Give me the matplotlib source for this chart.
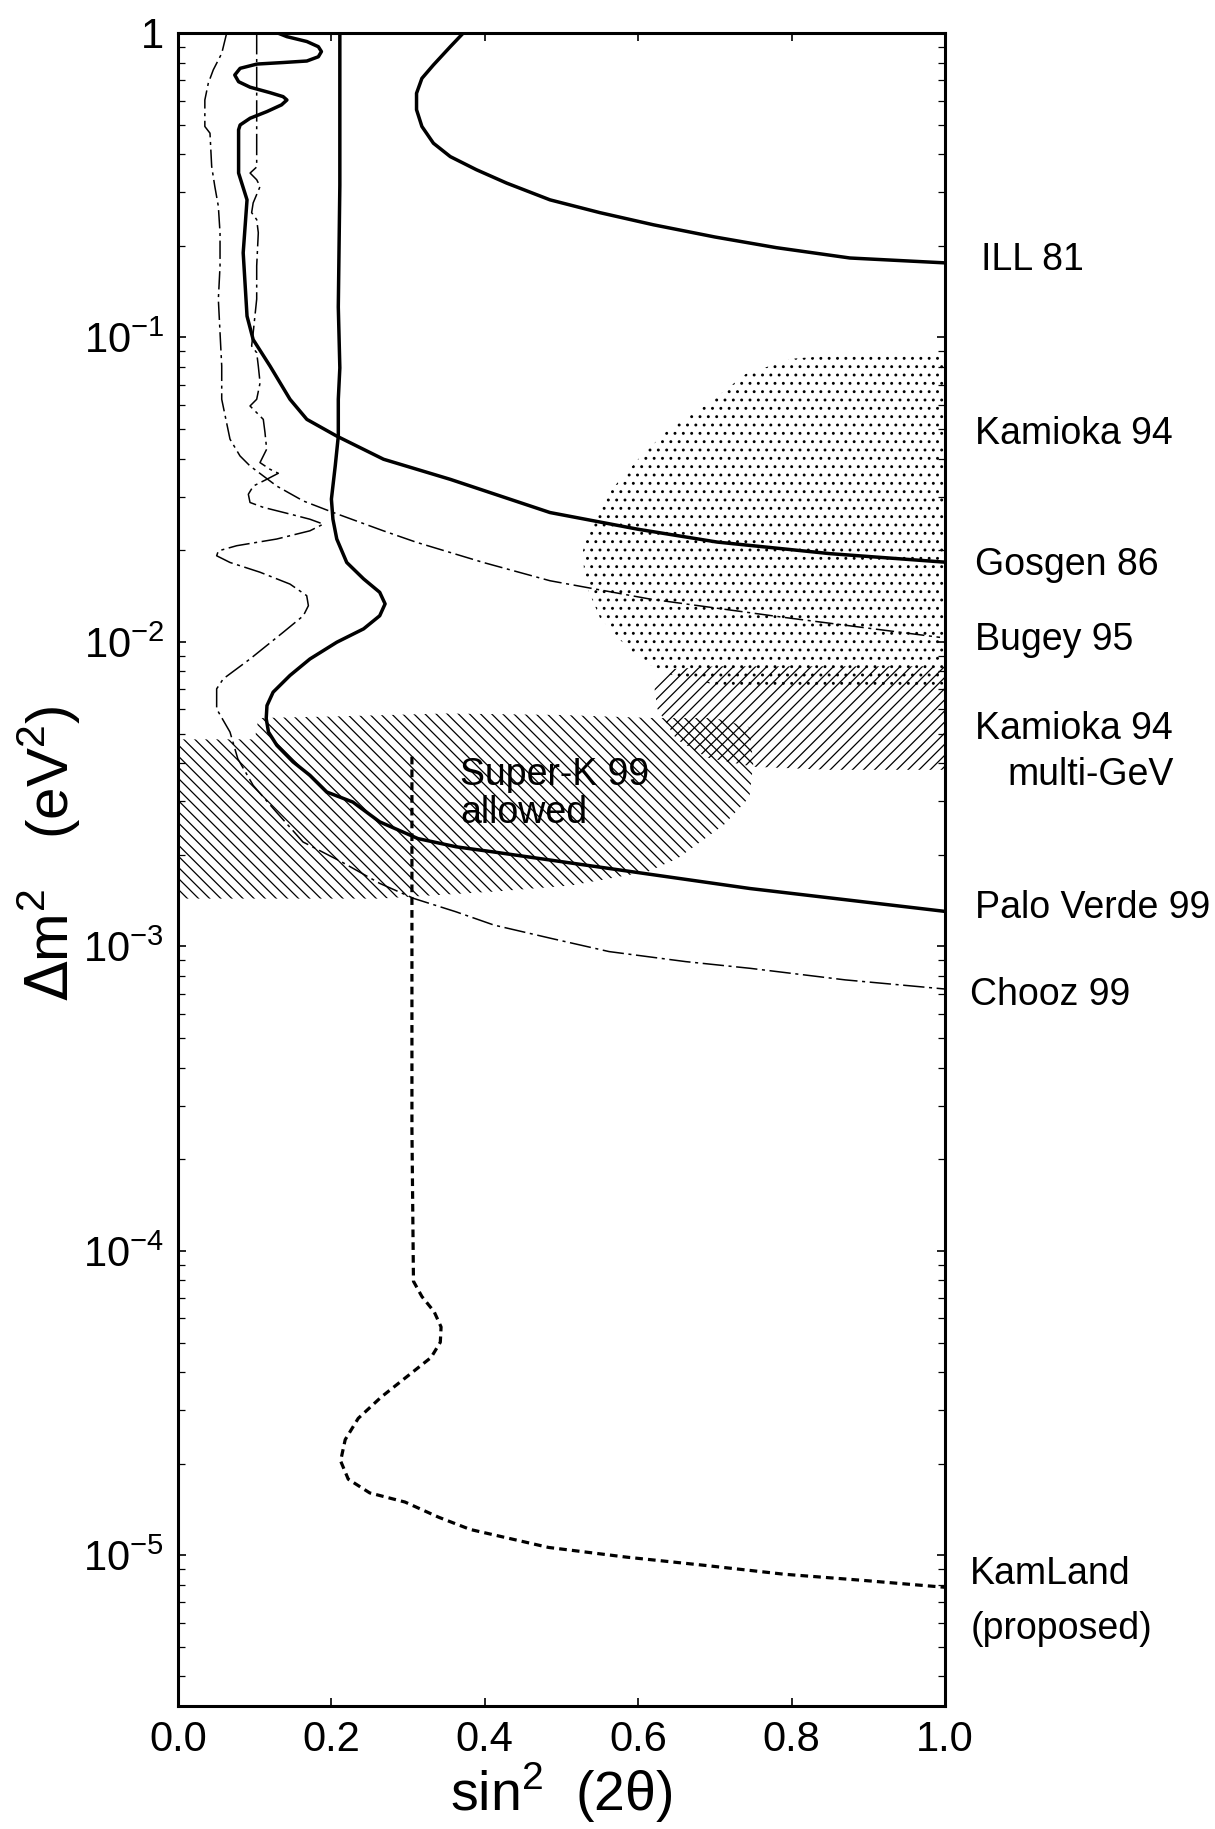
# Reactor / atmospheric neutrino oscillation exclusion plot (sin^2 2theta vs dm^2)
import numpy as np
import matplotlib
matplotlib.use('Agg')
from matplotlib import pyplot as plt

plt.rcParams['font.family'] = ['Liberation Sans', 'DejaVu Sans']
plt.rcParams['hatch.color'] = 'black'
plt.rcParams['hatch.linewidth'] = 0.9

# exclusion curves: sin^2(2theta) and log10(dm^2 / eV^2)
ill_x = [0.372, 0.355, 0.333, 0.318, 0.311, 0.311, 0.318, 0.333, 0.355, 0.389, 0.4285, 0.485, 0.55, 0.62, 0.70, 0.78, 0.876, 1.0]
ill_y = [0.0, -0.045, -0.105, -0.149, -0.198, -0.252, -0.307, -0.362, -0.406, -0.449, -0.493, -0.548, -0.59, -0.63, -0.67, -0.705, -0.739, -0.755]

gosgen_x = [0.13, 0.142, 0.168, 0.183, 0.187, 0.183, 0.168, 0.137, 0.103, 0.081, 0.074, 0.079, 0.094, 0.12, 0.137, 0.142, 0.135,
            0.116, 0.094, 0.081, 0.079, 0.079, 0.09, 0.085, 0.09, 0.098, 0.12, 0.146, 0.168, 0.207, 0.268, 0.355, 0.485,
            0.60, 0.703, 0.85, 1.0]
gosgen_y = [0.0, -0.012, -0.028, -0.045, -0.061, -0.078, -0.092, -0.097, -0.102, -0.116, -0.138, -0.16, -0.178, -0.196, -0.209, -0.22, -0.236,
            -0.258, -0.28, -0.302, -0.318, -0.46, -0.548, -0.722, -0.93, -1.007, -1.094, -1.203, -1.269, -1.324, -1.40, -1.466, -1.575,
            -1.63, -1.672, -1.71, -1.738]

bugey_x = [0.0635, 0.057, 0.046, 0.0395, 0.035, 0.035, 0.0417, 0.0439, 0.048, 0.0526, 0.0548, 0.0548, 0.0526, 0.0548, 0.057, 0.057,
           0.0678, 0.0808, 0.0939, 0.1287, 0.1634, 0.2025, 0.2677, 0.3112, 0.398, 0.485, 0.615, 0.789, 0.9935]
bugey_y = [0.0, -0.067, -0.121, -0.165, -0.22, -0.307, -0.329, -0.438, -0.504, -0.569, -0.657, -0.765, -0.875, -0.984, -1.094, -1.203,
           -1.334, -1.389, -1.422, -1.488, -1.537, -1.575, -1.635, -1.673, -1.739, -1.799, -1.859, -1.919, -1.985]

paloverde_x = [0.211, 0.211, 0.209, 0.211, 0.209, 0.209, 0.205, 0.20, 0.202, 0.207, 0.22, 0.242, 0.263, 0.27, 0.263, 0.242, 0.207,
               0.172, 0.146, 0.124, 0.116, 0.115, 0.118, 0.129, 0.15, 0.172, 0.194, 0.228, 0.263, 0.313, 0.363, 0.412, 0.562,
               0.746, 1.0]
paloverde_y = [0.0, -0.5, -0.9, -1.1, -1.203, -1.324, -1.422, -1.531, -1.597, -1.662, -1.739, -1.793, -1.837, -1.875, -1.914, -1.957, -2.001,
               -2.056, -2.11, -2.165, -2.209, -2.252, -2.296, -2.34, -2.394, -2.438, -2.493, -2.526, -2.591, -2.646, -2.673, -2.69, -2.744,
               -2.81, -2.885]

chooz_x = [0.1026, 0.1026, 0.094, 0.1026, 0.107, 0.098, 0.096, 0.1026, 0.1047, 0.1026, 0.1026, 0.098, 0.096, 0.1026, 0.1047, 0.107,
           0.1026, 0.0939, 0.1026, 0.1112, 0.1134, 0.1156, 0.1069, 0.12, 0.1308, 0.1156, 0.0982, 0.0917, 0.0939, 0.1112, 0.146, 0.172,
           0.1894, 0.172, 0.1287, 0.0765, 0.0526, 0.0504, 0.0678, 0.1069, 0.146, 0.1678, 0.17, 0.1634, 0.1373, 0.0939, 0.0591,
           0.0504, 0.0504, 0.0678, 0.078, 0.098, 0.128, 0.163, 0.213, 0.263, 0.308, 0.362, 0.412, 0.487, 0.562, 0.662, 0.746,
           0.87, 1.0]
chooz_y = [0.0, -0.44, -0.46, -0.482, -0.504, -0.558, -0.59, -0.613, -0.656, -0.765, -0.874, -0.985, -1.028, -1.05, -1.094, -1.149,
           -1.203, -1.225, -1.247, -1.269, -1.312, -1.367, -1.411, -1.433, -1.446, -1.466, -1.488, -1.515, -1.542, -1.558, -1.58, -1.597,
           -1.613, -1.635, -1.662, -1.684, -1.701, -1.717, -1.739, -1.771, -1.81, -1.848, -1.881, -1.914, -1.968, -2.056, -2.121,
           -2.154, -2.22, -2.296, -2.384, -2.471, -2.558, -2.657, -2.722, -2.793, -2.843, -2.886, -2.93, -2.974, -3.017, -3.05, -3.072,
           -3.11, -3.14]

kamland_x = [0.305, 0.305, 0.305, 0.307, 0.318, 0.334, 0.343, 0.342, 0.33, 0.30, 0.265, 0.235, 0.218, 0.212, 0.222, 0.25, 0.296,
             0.34, 0.381, 0.483, 0.585, 0.687, 0.79, 0.892, 1.0]
kamland_y = [-2.377, -3.0, -3.6, -4.10, -4.15, -4.20, -4.25, -4.30, -4.35, -4.41, -4.48, -4.55, -4.62, -4.69, -4.75, -4.795, -4.825,
             -4.875, -4.915, -4.974, -5.006, -5.033, -5.062, -5.082, -5.105]

# allowed regions (outlines)
superk_x = [0.0, 0.10, 0.105, 0.20, 0.35, 0.50, 0.62, 0.70, 0.745, 0.75, 0.745, 0.712, 0.652, 0.613, 0.512, 0.412, 0.263, 0.0]
superk_y = [-2.32, -2.32, -2.25, -2.245, -2.235, -2.24, -2.25, -2.25, -2.28, -2.40, -2.51, -2.60, -2.71, -2.754, -2.80, -2.82, -2.843, -2.843]

kam94_x = [1.0, 0.90, 0.80, 0.74, 0.69, 0.64, 0.60, 0.565, 0.54, 0.528, 0.53, 0.55, 0.59, 0.63, 0.70, 0.80, 0.90, 1.0]
kam94_y = [-1.06, -1.05, -1.07, -1.12, -1.22, -1.30, -1.40, -1.50, -1.60, -1.70, -1.80, -1.92, -2.03, -2.10, -2.14, -2.15, -2.15, -2.14]

multigev_x = [0.62, 0.64, 0.70, 1.0, 1.0, 0.85, 0.75, 0.69, 0.65, 0.625]
multigev_y = [-2.13, -2.09, -2.08, -2.08, -2.42, -2.42, -2.41, -2.38, -2.32, -2.22]

# labels at right of the frame
label_text = ['ILL 81', 'Kamioka 94', 'Gosgen 86', 'Bugey 95', 'Kamioka 94', 'multi-GeV',
              'Palo Verde 99', 'Chooz 99', 'KamLand', '(proposed)']
label_y = [-0.744, -1.318, -1.748, -1.993, -2.285, -2.436, -2.875, -3.16, -5.062, -5.243]
label_x = [1.047, 1.039, 1.039, 1.039, 1.039, 1.082, 1.039, 1.033, 1.033, 1.033]

yticks = [1e-5, 1e-4, 1e-3, 1e-2, 1e-1, 1.0]
ytick_labels = [r'$\mathdefault{10^{-5}}$', r'$\mathdefault{10^{-4}}$', r'$\mathdefault{10^{-3}}$',
                r'$\mathdefault{10^{-2}}$', r'$\mathdefault{10^{-1}}$', '1']
xticks = [0.0, 0.2, 0.4, 0.6, 0.8, 1.0]


def dm2(logs):
    return 10.0 ** np.array(logs)


fig = plt.figure(figsize=(12.15, 18.29), dpi=100)
ax = fig.add_axes([178 / 1215, 1 - 1706 / 1829, 767 / 1215, 1673 / 1829])

ax.fill(kam94_x, dm2(kam94_y), facecolor='none', edgecolor='black', lw=0, hatch='..', zorder=1)
ax.fill(multigev_x, dm2(multigev_y), facecolor='none', edgecolor='black', lw=0, hatch='///', zorder=1)
ax.fill(superk_x, dm2(superk_y), facecolor='none', edgecolor='black', lw=0, hatch='\\\\\\', zorder=1)

ax.plot(ill_x, dm2(ill_y), color='black', lw=2.5, zorder=3)
ax.plot(gosgen_x, dm2(gosgen_y), color='black', lw=2.5, zorder=3)
ax.plot(paloverde_x, dm2(paloverde_y), color='black', lw=2.5, zorder=3)
ax.plot(bugey_x, dm2(bugey_y), color='black', lw=1.1, ls=(0, (12, 3, 2, 3)), zorder=3)
ax.plot(chooz_x, dm2(chooz_y), color='black', lw=1.1, ls=(0, (14, 3, 2, 3)), zorder=3)
ax.plot(kamland_x, dm2(kamland_y), color='black', lw=2.3, ls=(0, (2.4, 1.6)), zorder=3)

ax.set_yscale('log')
ax.set_xlim(0, 1)
ax.set_ylim(3.2e-6, 1)

ax.set_yticks(yticks, ytick_labels, fontsize=30)
ax.set_xticks(xticks, ['%.1f' % v for v in xticks], fontsize=30)
ax.yaxis.set_minor_formatter(plt.NullFormatter())
ax.tick_params(axis='both', which='major', direction='in', length=6, width=1.2,
               top=True, right=True, pad=10)
ax.tick_params(axis='y', which='minor', direction='in', length=5, width=0.9, left=True, right=True)
for s in ax.spines.values():
    s.set_linewidth(2.2)

ax.text(0.368, 10 ** -2.5, 'Super-K 99\nallowed', fontsize=27, ha='left', va='center',
        linespacing=1.05, zorder=4)

for t, lx, ly in zip(label_text, label_x, label_y):
    ax.text(lx, 10.0 ** ly, t, transform=ax.get_yaxis_transform(), fontsize=27,
            ha='left', va='center', clip_on=False)

ax.text(-0.167, 0.51, r'$\Delta$m$^{\mathdefault{2}}$   (eV$^{\mathdefault{2}}$)', transform=ax.transAxes,
        rotation=90, fontsize=42, ha='center', va='center')
ax.text(0.5, -0.052, r'sin$^{\mathdefault{2}}$  (2θ)', transform=ax.transAxes,
        fontsize=40, ha='center', va='center')

plt.savefig('out.png', dpi=100)
